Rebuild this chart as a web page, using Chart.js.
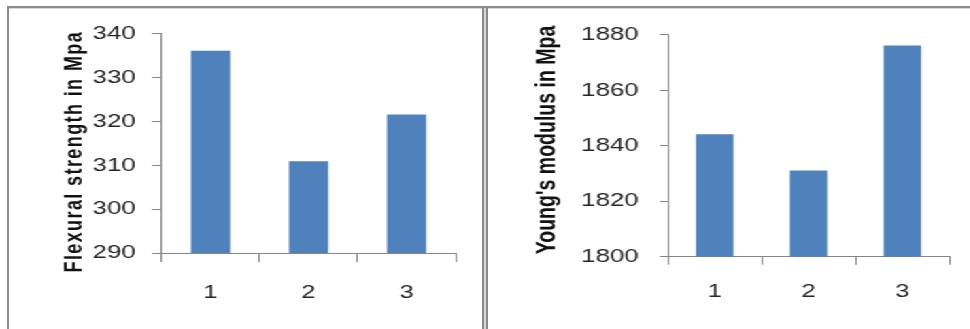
<!DOCTYPE html>
<html>
<head>
<meta charset="utf-8">
<script src="https://cdn.jsdelivr.net/npm/chart.js@4/dist/chart.umd.min.js"></script>
<style>
  html, body { margin: 0; padding: 0; background: #fff; }
  body { width: 970px; height: 329px; position: relative; overflow: hidden; }
  .frame { position: absolute; background: #8a8a8a; }
  .light { position: absolute; background: #d9d9d9; }
  /* charts are drawn narrow and widened horizontally */
  #stage { position: absolute; left: 0; top: 0; width: 713.3px; height: 329px;
           transform: scaleX(1.36); transform-origin: 0 0; }
  #stage canvas { position: absolute; top: 8px; }
</style>
</head>
<body>
<div class="frame" style="left:7px;top:6px;width:963px;height:2px"></div>
<div class="light" style="left:9px;top:8px;width:961px;height:1px"></div>
<div class="frame" style="left:7px;top:6px;width:2px;height:323px"></div>
<div class="frame" style="left:482px;top:6px;width:2px;height:323px"></div>
<div class="light" style="left:484px;top:8px;width:2px;height:321px"></div>
<div class="frame" style="left:486px;top:6px;width:2px;height:323px"></div>

<div id="stage">
  <canvas id="flex" width="348" height="321" style="left:6.6px"></canvas>
  <canvas id="young" width="354" height="321" style="left:358.8px"></canvas>
</div>

<script>
// Sample numbers on the category axis
const categories = ['1', '2', '3'];

// Flexural strength (MPa)
const flexuralStrength = [336.1, 310.9, 321.6];
const flexuralTicks = { min: 290, max: 340, step: 10 };

// Young's modulus (MPa)
const youngsModulus = [1844.2, 1831.1, 1876.2];
const youngTicks = { min: 1800, max: 1880, step: 20 };

const BAR_BLUE = '#4f81bd';
const AXIS_GREY = '#868686';
const TEXT_DARK = '#262626';
const FONT = '"Liberation Sans", Arial, sans-serif';

// Rotated y-axis caption drawn at a chosen spot beside the axis
function sideTitle(cfg) {
  return {
    id: 'sideTitle',
    afterDraw(chart) {
      const ctx = chart.ctx;
      ctx.save();
      ctx.translate(cfg.x, cfg.y);
      ctx.rotate(-Math.PI / 2);
      ctx.font = cfg.font;
      if ('letterSpacing' in ctx) ctx.letterSpacing = (cfg.spacing || 0) + 'px';
      ctx.fillStyle = '#111111';
      ctx.textAlign = 'center';
      ctx.textBaseline = 'middle';
      ctx.fillText(cfg.text, 0, 0);
      ctx.restore();
    }
  };
}

function barChart(id, values, ticks, geo, title) {
  return new Chart(document.getElementById(id), {
    type: 'bar',
    data: {
      labels: categories,
      datasets: [{
        data: values,
        backgroundColor: BAR_BLUE,
        borderWidth: 0,
        barPercentage: 0.4,
        categoryPercentage: 1.0
      }]
    },
    options: {
      responsive: false,
      animation: false,
      events: [],
      layout: { padding: { top: geo.top, right: geo.right, bottom: 0, left: 0 } },
      plugins: { legend: { display: false }, tooltip: { enabled: false } },
      scales: {
        x: {
          grid: { display: true, drawOnChartArea: false, drawTicks: true,
                  tickLength: geo.xTick, color: AXIS_GREY, offset: true },
          border: { display: true, color: AXIS_GREY, width: 1 },
          ticks: { color: TEXT_DARK, padding: geo.xPad, font: { family: FONT, size: 19 } },
          afterFit(scale) { scale.height = geo.xHeight; }
        },
        y: {
          min: ticks.min,
          max: ticks.max,
          grid: { display: true, drawOnChartArea: false, drawTicks: true,
                  tickLength: geo.yTick, color: AXIS_GREY },
          border: { display: true, color: AXIS_GREY, width: 1 },
          ticks: { stepSize: ticks.step, color: TEXT_DARK, padding: geo.yPad,
                   font: { family: FONT, size: 19 },
                   callback: (v) => String(v) },
          afterFit(scale) { scale.width = geo.yWidth; }
        }
      }
    },
    plugins: [sideTitle(title)]
  });
}

barChart('flex', flexuralStrength, flexuralTicks,
  { top: 25.7, right: 20, yWidth: 111.8, yTick: 7, yPad: 12, xHeight: 76, xTick: 9, xPad: 19 },
  { text: 'Flexural strength in Mpa', x: 47.8, y: 143.7,
    font: 'bold 18px ' + FONT, spacing: 1.4 });

barChart('young', youngsModulus, youngTicks,
  { top: 25, right: 15, yWidth: 132.1, yTick: 6, yPad: 15.5, xHeight: 72.3, xTick: 8, xPad: 16 },
  { text: "Young's modulus in Mpa", x: 44.1, y: 132,
    font: 'bold 19.5px ' + FONT, spacing: 0 });
</script>
</body>
</html>
